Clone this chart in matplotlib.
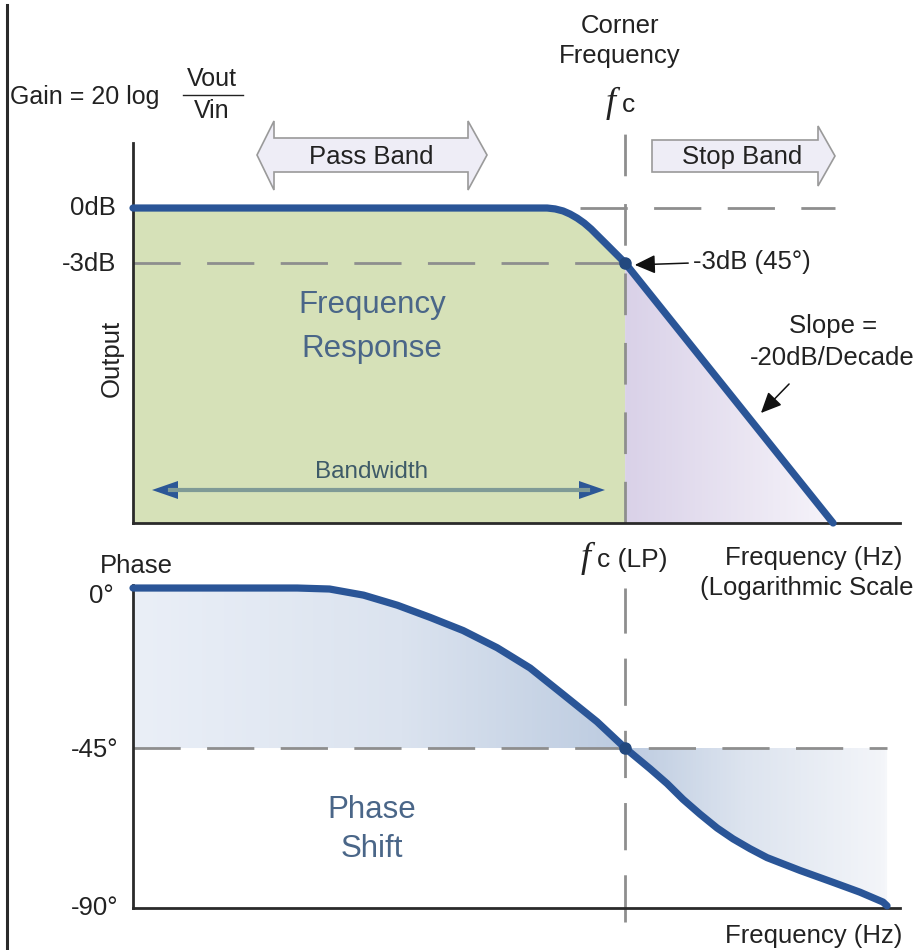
import numpy as np
import matplotlib
matplotlib.use("Agg")
import matplotlib.pyplot as plt
from matplotlib.colors import LinearSegmentedColormap
from matplotlib.patches import Polygon, FancyArrowPatch
from matplotlib.lines import Line2D

plt.rcParams['font.family'] = ['Liberation Sans', 'DejaVu Sans']

W, H = 923, 950

# ---- data -------------------------------------------------------------
fc = 1000.0                      # corner frequency (Hz)
f_min, f_max = 20.9, 8680.0      # plotted frequency span (Hz)

gain_freq = [20.9, 542, 577, 614, 649, 686, 725, 766, 809, 855, 903, 947, 1000, 5130]
gain_db = [0, 0, -0.05, -0.16, -0.33, -0.55, -0.82, -1.15, -1.53, -1.91, -2.29, -2.62,
           -3.0, -17.2]

phase_freq = [20.9, 76, 98, 128, 167, 216, 280, 366, 474, 614, 802, 1000,
              1217, 1391, 1577, 1803, 2061, 2337, 2671, 3052, 3956, 5128, 6339, 7595, 7840]
phase_deg = [0, 0, -0.28, -2.0, -4.84, -8.26, -11.96, -16.8, -22.5, -29.91, -37.6, -45,
             -50.83, -55.0, -59.44, -63.61, -67.5, -70.56, -73.33, -75.83, -79.44, -82.78,
             -85.56, -88.33, -89.4]

gain_ylim = (-17.2, 3.55)
phase_ylim = (-90, 0.85)

LINE = '#2a5597'
TXT = '#222222'
DASH = '#8e8e8e'
LABEL_BLUE = '#4a6688'


def fx(x):
    return x / W


def fy(y):
    return 1 - y / H


fig = plt.figure(figsize=(W / 100, H / 100), dpi=100)

ax1 = fig.add_axes([fx(133), fy(523), (900 - 133) / W, (523 - 143) / H])
ax2 = fig.add_axes([fx(133), fy(908), (900 - 133) / W, (908 - 585) / H])

for ax, ylim in ((ax1, gain_ylim), (ax2, phase_ylim)):
    ax.set_xscale('log')
    ax.set_xlim(f_min, f_max)
    ax.set_ylim(*ylim)
    ax.set_autoscale_on(False)
    for s in ('top', 'right'):
        ax.spines[s].set_visible(False)
    for s in ('left', 'bottom'):
        ax.spines[s].set_color('#2a2a2a')
        ax.spines[s].set_linewidth(2.0)
    ax.set_xticks([])
    ax.set_yticks([])
    ax.minorticks_off()
    ax.patch.set_alpha(0)


def clipped_gradient(ax, coll, stops, zorder):
    cmap = LinearSegmentedColormap.from_list('grad', stops)
    grad = np.linspace(0, 1, 600).reshape(1, -1)
    im = ax.imshow(grad, extent=[0, 1, 0, 1], transform=ax.transAxes,
                   aspect='auto', cmap=cmap, zorder=zorder, interpolation='bilinear')
    im.set_clip_path(coll.get_paths()[0], coll.get_transform())
    ax.set_xlim(f_min, f_max)
    return im


fc_frac = (np.log10(fc) - np.log10(f_min)) / (np.log10(f_max) - np.log10(f_min))

# ---- gain panel -------------------------------------------------------
k = gain_freq.index(fc)
ax1.fill_between(gain_freq[:k + 1], gain_db[:k + 1], gain_ylim[0],
                 facecolor='#d6e1b8', edgecolor='none', zorder=1)
lav = ax1.fill_between(gain_freq[k:], gain_db[k:], gain_ylim[0],
                       facecolor='none', edgecolor='none', zorder=1)
clipped_gradient(ax1, lav, [(0, '#d9d1e8'), (fc_frac, '#d9d1e8'),
                            (0.93, '#f8f6fb'), (1, '#ffffff')], 1)
ax1.set_ylim(*gain_ylim)

dash_style = (0, (17, 9.5))
ax1.plot([f_min, fc], [-3, -3], color=DASH, lw=2.0, ls=dash_style, zorder=2)
ax1.plot([702, 5210], [0, 0], color=DASH, lw=2.0, ls=dash_style, zorder=2)
ax1.axvline(fc, ymin=0, ymax=1.029, color=DASH, lw=2.0, ls=(0, (15, 10)),
            clip_on=False, zorder=2)

ax1.plot(gain_freq, gain_db, color=LINE, lw=5.2, solid_capstyle='round',
         solid_joinstyle='round', zorder=4, clip_on=False)
ax1.plot([fc], [-3], 'o', color='#23497f', ms=8, zorder=5)

# ---- phase panel ------------------------------------------------------
ph = ax2.fill_between(phase_freq, phase_deg, -45, facecolor='none',
                      edgecolor='none', zorder=1)
clipped_gradient(ax2, ph, [(0, '#eaeff7'), (0.35, '#dbe3ef'), (fc_frac, '#bccbe0'),
                           (0.8, '#dde4ef'), (0.98, '#f3f5f9'), (1, '#ffffff')], 1)
ax2.set_ylim(*phase_ylim)

ax2.plot([f_min, phase_freq[-1]], [-45, -45], color=DASH, lw=2.0, ls=dash_style, zorder=2)
ax2.axvline(fc, ymin=-0.043, ymax=0.99, color=DASH, lw=2.0, ls=(0, (17, 9)),
            clip_on=False, zorder=2)
ax2.plot(phase_freq, phase_deg, color=LINE, lw=5.2, solid_capstyle='round',
         solid_joinstyle='round', zorder=4, clip_on=False)
ax2.plot([fc], [-45], 'o', color='#23497f', ms=8, zorder=5)

# ---- frame line on the left ------------------------------------------
fig.add_artist(Line2D([fx(7), fx(7)], [fy(5), fy(950)], color='#2a2a2a', lw=2.2))


# ---- text helpers -----------------------------------------------------
def txt(x, y, s, ha='left', size=18.5, color=TXT, **kw):
    fig.text(fx(x), fy(y), s, ha=ha, va='baseline', fontsize=size, color=color, **kw)


# gain formula
txt(10, 104, 'Gain = 20 log', size=18)
txt(212, 86, 'Vout', ha='center', size=18)
txt(212, 118, 'Vin', ha='center', size=18)
fig.add_artist(Line2D([fx(183), fx(243)], [fy(95), fy(95)], color=TXT, lw=1.0))

# axis labels of the gain panel
txt(116, 215, '0dB', ha='right')
txt(116, 271, '-3dB', ha='right')
fig.text(fx(112), fy(358), 'Output', rotation=90, ha='center', va='center',
         fontsize=18.5, color=TXT)

# corner frequency
txt(620, 33, 'Corner', ha='center')
txt(620, 63, 'Frequency', ha='center')
txt(606, 112, 'f', size=26, family='Liberation Serif', style='italic')
txt(622, 112, 'c', size=19)

# pass band / stop band arrows
pass_pts = [(257, 155), (274, 121), (274, 138), (468, 138), (468, 121), (487, 155),
            (468, 190), (468, 172), (274, 172), (274, 190)]
stop_pts = [(652, 140), (818, 140), (818, 126), (835, 156), (818, 186), (818, 172),
            (652, 172)]
for pts in (pass_pts, stop_pts):
    fig.add_artist(Polygon([(fx(x), fy(y)) for x, y in pts], closed=True,
                           facecolor='#eeedf6', edgecolor='#9a9a9a', lw=1.2,
                           transform=fig.transFigure))
txt(371, 164, 'Pass Band', ha='center')
txt(742, 164, 'Stop Band', ha='center')

# inner labels
txt(372, 313, 'Frequency', ha='center', size=22.5, color=LABEL_BLUE)
txt(372, 357, 'Response', ha='center', size=22.5, color=LABEL_BLUE)
txt(372, 478, 'Bandwidth', ha='center', size=17.5, color='#3e5a68')

# bandwidth arrow
fig.add_artist(Line2D([fx(170), fx(588)], [fy(490), fy(490)], color='#7f9a96', lw=3.0))
for pts in ([(152, 490), (178, 481), (178, 499)], [(605, 490), (579, 481), (579, 499)]):
    fig.add_artist(Polygon([(fx(x), fy(y)) for x, y in pts], closed=True,
                           facecolor='#2c5796', edgecolor='none',
                           transform=fig.transFigure))

# -3dB pointer
fig.add_artist(FancyArrowPatch(
    (fx(691), fy(263)), (fx(632), fy(265)), transform=fig.transFigure,
    arrowstyle='-|>,head_length=0.7,head_width=0.32', mutation_scale=18,
    color='#111111', lw=1.1))
txt(693, 269, '-3dB (45°)')

# slope annotation
txt(833, 333, 'Slope =', ha='center')
txt(832, 365, '-20dB/Decade', ha='center')
fig.add_artist(FancyArrowPatch(
    (fx(791), fy(382)), (fx(759), fy(415)), transform=fig.transFigure,
    arrowstyle='-|>,head_length=0.7,head_width=0.32', mutation_scale=18,
    color='#111111', lw=1.1))

# frequency axis labels
txt(581, 567, 'f', size=26, family='Liberation Serif', style='italic')
txt(597, 567, 'c (LP)', size=19)
txt(725, 565, 'Frequency (Hz)')
txt(700, 595, '(Logarithmic Scale')

# phase panel labels
txt(100, 573, 'Phase')
txt(114, 603, '0°', ha='right')
txt(118, 757, '-45°', ha='right')
txt(118, 915, '-90°', ha='right')
txt(372, 818, 'Phase', ha='center', size=22.5, color=LABEL_BLUE)
txt(372, 857, 'Shift', ha='center', size=22.5, color=LABEL_BLUE)
txt(725, 943, 'Frequency (Hz)')

fig.savefig('out.png', dpi=100)
